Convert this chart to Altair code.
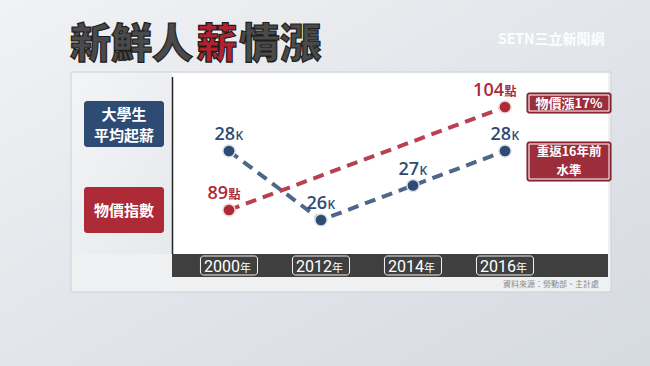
import altair as alt
import pandas as pd

# ---- data ----
years = ["2000", "2012", "2014", "2016"]
salary_k = [28, 26, 27, 28]
price_years = ["2000", "2016"]
price_index = [89, 104]
salary_suffix = "K"
price_suffix = "點"
year_suffix = "年"

title_parts = ["新鮮人", "薪", "情漲"]
legend_salary = ["大學生", "平均起薪"]
legend_price = "物價指數"
note_price = "物價漲17%"
note_salary = ["重返16年前", "水準"]
source_text = "資料來源：勞動部、主計處"
logo_text = "SETN三立新聞網"

idx_of = {y: i for i, y in enumerate(years)}
df_sal = pd.DataFrame({"year": years, "idx": [idx_of[y] for y in years],
                       "val": salary_k, "num": [str(v) for v in salary_k]})
df_pri = pd.DataFrame({"year": price_years, "idx": [idx_of[y] for y in price_years],
                       "val": price_index, "num": [str(v) for v in price_index]})
df_year = pd.DataFrame({"year": years, "idx": list(range(len(years)))})

one = pd.DataFrame({"a": [0]})

CJK = "Noto Sans CJK TC"
NUM = "Open Sans"
BLUE_DARK = "#2e4b73"
BLUE_LINE = "#4d6689"
RED = "#ad2a37"
RED_LINE = "#b8414f"

XS = alt.Scale(domain=[0, 3], range=[229, 505], nice=False, zero=False)
X = alt.X("idx:Q", scale=XS, axis=None)
Ys = alt.Y("val:Q", scale=alt.Scale(domain=[26, 28], range=[220, 151], nice=False, zero=False), axis=None)
Yp = alt.Y("val:Q", scale=alt.Scale(domain=[89, 104], range=[210, 107], nice=False, zero=False), axis=None)


def box(x1, x2, y1, y2, **kw):
    return alt.Chart(one).mark_rect(**kw).encode(
        x=alt.value(x1), x2=alt.value(x2), y=alt.value(y1), y2=alt.value(y2))


def label(txt, x, y, **kw):
    return alt.Chart(one).mark_text(text=txt, **kw).encode(x=alt.value(x), y=alt.value(y))


layers = []

# background
bg = alt.LinearGradient(gradient="linear", x1=0, y1=0, x2=1, y2=1,
                        stops=[alt.GradientStop(color="#f1f2f4", offset=0),
                               alt.GradientStop(color="#e2e5ea", offset=0.5),
                               alt.GradientStop(color="#d6dae1", offset=1)])
layers.append(box(0, 650, 0, 366, color=bg))

# panel
layers.append(box(71, 611, 72, 292, color="#eef0f2", stroke="#cdd1d7", strokeWidth=1))
left_grad = alt.LinearGradient(gradient="linear", x1=0, y1=0, x2=1, y2=1,
                               stops=[alt.GradientStop(color="#f3f4f6", offset=0),
                                      alt.GradientStop(color="#e6e9ed", offset=1)])
layers.append(box(72, 172, 73, 254, color=left_grad))
layers.append(box(172, 608, 73, 254, color="#ffffff"))
layers.append(box(172, 608, 254, 277, color="#3f3f3f"))
layers.append(alt.Chart(one).mark_rule(color="#222222", strokeWidth=1.5).encode(
    x=alt.value(172.5), y=alt.value(77), y2=alt.value(254)))

# title
tkw = dict(font=CJK, fontSize=41, fontWeight=900, baseline="middle", stroke="#1e1e1e", strokeWidth=1.2)
layers.append(label(title_parts[0], 70, 46, align="left", color="#4a4a4a", **tkw))
layers.append(label(title_parts[1], 217, 46, align="center", color="#b0232f", **tkw))
layers.append(label(title_parts[2], 239, 46, align="left", color="#4a4a4a", **tkw))

# logo
layers.append(label(logo_text, 498, 40, align="left", baseline="middle", font=CJK,
                    fontSize=14, fontWeight="bold", color="#ffffff", opacity=0.95))

# legend boxes
layers.append(box(84, 164, 101, 147, color=BLUE_DARK, cornerRadius=3))
layers.append(label(legend_salary[0], 124, 115, align="center", baseline="middle", font=CJK,
                    fontSize=15, fontWeight="bold", color="white"))
layers.append(label(legend_salary[1], 124, 136, align="center", baseline="middle", font=CJK,
                    fontSize=15, fontWeight="bold", color="white"))
layers.append(box(84, 164, 187, 233, color=RED, cornerRadius=3))
layers.append(label(legend_price, 124, 211, align="center", baseline="middle", font=CJK,
                    fontSize=15, fontWeight="bold", color="white"))

# annotation boxes
layers.append(box(527, 611, 93, 113, color="#9c2d3b", stroke="#6e1a24", strokeWidth=1, cornerRadius=2))
layers.append(box(529, 609, 95, 111, filled=False, stroke="#ffffff", strokeWidth=1))
layers.append(label(note_price, 569, 104, align="center", baseline="middle", font=CJK,
                    fontSize=13, fontWeight="bold", color="white"))
layers.append(box(527, 611, 142, 181, color="#9c2d3b", stroke="#6e1a24", strokeWidth=1, cornerRadius=2))
layers.append(box(529, 609, 144, 179, filled=False, stroke="#ffffff", strokeWidth=1))
layers.append(label(note_salary[0], 569, 152, align="center", baseline="middle", font=CJK,
                    fontSize=12.5, fontWeight="bold", color="white"))
layers.append(label(note_salary[1], 569, 171, align="center", baseline="middle", font=CJK,
                    fontSize=12.5, fontWeight="bold", color="white"))

# year labels in band
layers.append(alt.Chart(df_year).transform_calculate(
    x1="datum.idx - 0.31", x2="datum.idx + 0.31").mark_rect(
    filled=False, stroke="#f2f2f2", strokeWidth=1, cornerRadius=3).encode(
    x=alt.X("x1:Q", scale=XS, axis=None), x2="x2:Q", y=alt.value(256), y2=alt.value(275)))
layers.append(alt.Chart(df_year).mark_text(
    align="right", baseline="alphabetic", dx=11, font="Roboto",
    fontSize=16, color="white").encode(x=X, y=alt.value(272), text="year:N"))
layers.append(alt.Chart(df_year).mark_text(
    align="left", baseline="alphabetic", dx=11, font=CJK, fontSize=11, color="white",
    text=year_suffix).encode(x=X, y=alt.value(272)))

# source
layers.append(label(source_text, 599, 285, align="right", baseline="middle", font=CJK,
                    fontSize=8, color="#8a8a8a"))

# salary series
layers.append(alt.Chart(df_sal).mark_line(color=BLUE_LINE, strokeWidth=4, strokeDash=[11, 7]).encode(x=X, y=Ys))
layers.append(alt.Chart(df_sal).mark_point(filled=True, size=150, color=BLUE_DARK, stroke="#d9e0ea",
                                           strokeWidth=1.5, opacity=1).encode(x=X, y=Ys))
layers.append(alt.Chart(df_sal).mark_text(align="right", baseline="alphabetic", dx=6, dy=-11, font=NUM,
                                          fontSize=18, fontWeight=600, color=BLUE_DARK).encode(
    x=X, y=Ys, text="num:N"))
layers.append(alt.Chart(df_sal).mark_text(align="left", baseline="alphabetic", dx=6.5, dy=-11, font=NUM,
                                          fontSize=12, fontWeight=600, color=BLUE_DARK,
                                          text=salary_suffix).encode(x=X, y=Ys))

# price series
layers.append(alt.Chart(df_pri).mark_line(color=RED_LINE, strokeWidth=4, strokeDash=[11, 7]).encode(x=X, y=Yp))
layers.append(alt.Chart(df_pri).mark_point(filled=True, size=150, color=RED, stroke="#f0d8da",
                                           strokeWidth=1.5, opacity=1).encode(x=X, y=Yp))
layers.append(alt.Chart(df_pri).mark_text(align="right", baseline="alphabetic", dx=-1, dy=-11, font=NUM,
                                          fontSize=18, fontWeight=600, color=RED).encode(
    x=X, y=Yp, text="num:N"))
layers.append(alt.Chart(df_pri).mark_text(align="left", baseline="alphabetic", dx=-0.5, dy=-11, font=CJK,
                                          fontSize=12, fontWeight="bold", color=RED,
                                          text=price_suffix).encode(x=X, y=Yp))

chart = alt.layer(*layers).resolve_scale(y="independent").properties(
    width=650, height=366, padding=0,
    autosize=alt.AutoSizeParams(type="none"),
).configure_view(stroke=None)

chart.save("out.html", embed_options={"renderer": "svg", "actions": False})
